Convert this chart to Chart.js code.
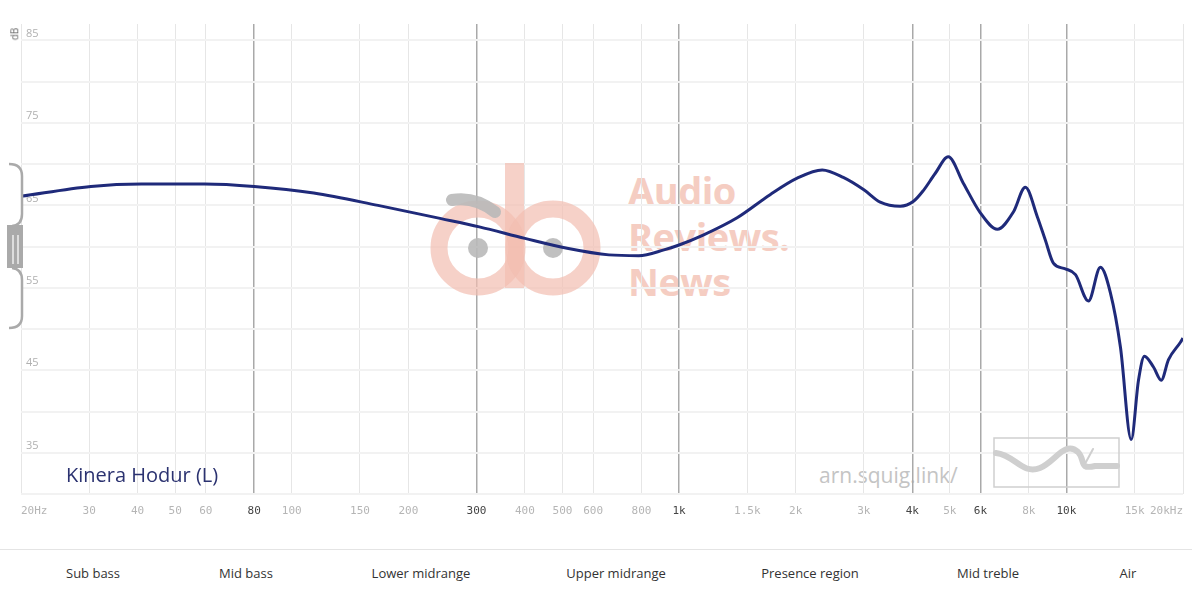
<!DOCTYPE html>
<html>
<head>
<meta charset="utf-8">
<script src="https://cdn.jsdelivr.net/npm/chart.js@4.4.0/dist/chart.umd.min.js"></script>
<style>
  body { margin: 0; width: 1192px; height: 594px; background: #fff; position: relative; overflow: hidden; font-family: 'Open Sans', sans-serif; }
  #fr { position: absolute; left: 0; top: 0; z-index: 2; }
  .wm { position: absolute; z-index: 1; color: #f5cdc2; font-weight: bold; font-size: 38px; line-height: 1; letter-spacing: -0.5px; }
  #label { position: absolute; z-index: 3; left: 66px; top: 461px; font-size: 20px; color: #2b3270; }
  #site { position: absolute; z-index: 1; left: 819px; top: 461px; font-size: 21px; color: #c4c4c4; }
  #db { position: absolute; z-index: 3; left: 8px; top: 27px; font-size: 10px; color: #666; transform: rotate(-90deg); }
  #bands { position: absolute; left: 0; top: 549px; width: 1192px; height: 45px; border-top: 1px solid #e4e4e4; }
  #bands div { position: absolute; top: 14px; transform: translateX(-50%); font-family: 'Liberation Sans Narrow', 'Open Sans', sans-serif; font-size: 13px; color: #333; white-space: nowrap; }
</style>
</head>
<body>
<div class="wm" style="left:628px; top:171px;">Audio</div>
<div class="wm" style="left:628px; top:217px;">Reviews.</div>
<div class="wm" style="left:628px; top:262px;">News</div>
<div id="site">arn.squig.link/</div>
<div id="label">Kinera Hodur (L)</div>
<div id="db">dB</div>
<canvas id="fr" width="1192" height="540"></canvas>
<div id="bands"></div>
<script>
// frequency response
const freqs = [20, 30.3, 40.9, 59.6, 80, 114, 167, 243, 305, 400, 514, 659, 787, 914, 1000,
    1154, 1412, 1718, 2018, 2342, 2654, 3000, 3306, 3724, 4030, 4272, 4588, 4955, 5418, 5995,
    6632, 7296, 7834, 8416, 8822, 9254, 9940, 10554, 11400, 12240, 12990, 13790, 14700, 15350,
    15900, 16780, 17570, 18350, 19700, 20000];
const levels = [66.1, 67.3, 67.6, 67.6, 67.3, 66.5, 65.0, 63.4, 62.4, 61.0, 59.8, 59.0, 58.9, 59.6, 60.2,
    61.4, 63.5, 66.3, 68.3, 69.3, 68.4, 66.9, 65.4, 64.9, 65.5, 66.8, 68.9, 70.9, 67.7, 64.1,
    62.1, 64.2, 67.2, 63.6, 60.8, 58.0, 57.3, 56.6, 53.4, 57.5, 54.4, 47.8, 36.6, 43.8,
    46.7, 45.4, 43.8, 46.3, 48.4, 48.9];

const xTicks = [20, 30, 40, 50, 60, 80, 100, 150, 200, 300, 400, 500, 600, 800, 1000,
    1500, 2000, 3000, 4000, 5000, 6000, 8000, 10000, 15000, 20000];
const xTickLabels = ['20Hz', '30', '40', '50', '60', '80', '100', '150', '200', '300', '400', '500', '600', '800', '1k',
    '1.5k', '2k', '3k', '4k', '5k', '6k', '8k', '10k', '15k', '20kHz'];
const majorTicks = [80, 300, 1000, 4000, 6000, 10000];
const yTicks = [30, 35, 40, 45, 50, 55, 60, 65, 70, 75, 80, 85];

const bandNames = ['Sub bass', 'Mid bass', 'Lower midrange', 'Upper midrange', 'Presence region', 'Mid treble', 'Air'];
const bandCenters = [93, 246, 421, 616, 810, 988, 1128];

const bandsEl = document.getElementById('bands');
bandNames.forEach((name, i) => {
    const d = document.createElement('div');
    d.textContent = name;
    d.style.left = bandCenters[i] + 'px';
    bandsEl.appendChild(d);
});

// watermark logo + squig box, drawn under the curve
const decor = {
    id: 'decor',
    beforeDatasetsDraw(chart) {
        const c = chart.ctx;
        c.save();
        c.strokeStyle = 'rgba(242,190,176,0.7)';
        c.lineWidth = 17;
        c.beginPath(); c.arc(478, 248, 39, 0, Math.PI * 2); c.stroke();
        c.beginPath(); c.arc(553, 248, 39, 0, Math.PI * 2); c.stroke();
        c.fillStyle = 'rgba(242,190,176,0.7)';
        c.fillRect(505, 163, 19, 125);
        c.fillStyle = 'rgba(185,185,185,0.9)';
        c.beginPath(); c.arc(478, 248, 10, 0, Math.PI * 2); c.fill();
        c.beginPath(); c.arc(553, 248, 10, 0, Math.PI * 2); c.fill();
        c.strokeStyle = 'rgba(185,185,185,0.9)';
        c.lineWidth = 12; c.lineCap = 'round';
        c.beginPath(); c.moveTo(452, 200); c.quadraticCurveTo(475, 196, 495, 212); c.stroke();

        c.strokeStyle = '#cfcfcf'; c.lineWidth = 1.5;
        c.strokeRect(994, 438, 125, 49);
        c.lineWidth = 6;
        c.beginPath();
        c.moveTo(996, 453);
        c.bezierCurveTo(1015, 455, 1022, 475, 1040, 468);
        c.bezierCurveTo(1055, 462, 1065, 440, 1078, 452);
        c.bezierCurveTo(1086, 460, 1078, 470, 1095, 466);
        c.lineTo(1117, 466);
        c.stroke();
        c.lineWidth = 2;
        c.beginPath(); c.moveTo(1086, 462); c.lineTo(1093, 449); c.stroke();
        c.restore();
    },
    afterDraw(chart) {
        // scroll handle on the left edge
        const c = chart.ctx;
        c.save();
        c.strokeStyle = '#aaa'; c.lineWidth = 2.5;
        c.beginPath();
        c.moveTo(9, 164); c.quadraticCurveTo(22, 164, 22, 176); c.lineTo(22, 214);
        c.quadraticCurveTo(22, 225, 12, 226);
        c.stroke();
        c.beginPath();
        c.moveTo(12, 268); c.quadraticCurveTo(22, 269, 22, 280); c.lineTo(22, 316);
        c.quadraticCurveTo(22, 328, 9, 328);
        c.stroke();
        c.fillStyle = '#aaa';
        c.fillRect(7, 225, 16, 43);
        c.fillStyle = '#ddd';
        c.fillRect(12, 235, 2, 29);
        c.fillRect(17, 235, 2, 29);
        c.restore();
    }
};

new Chart(document.getElementById('fr'), {
    type: 'line',
    data: {
        datasets: [{
            data: freqs.map((f, i) => ({ x: f, y: levels[i] })),
            borderColor: '#1f2a7a',
            borderWidth: 3,
            pointRadius: 0,
            fill: false,
            cubicInterpolationMode: 'monotone'
        }]
    },
    options: {
        responsive: false,
        animation: false,
        devicePixelRatio: 1,
        layout: { padding: { left: 21, right: 9, top: 24, bottom: 0 } },
        plugins: { legend: { display: false }, tooltip: { enabled: false } },
        scales: {
            x: {
                type: 'logarithmic',
                min: 20,
                max: 20000,
                afterBuildTicks: scale => { scale.ticks = xTicks.map(v => ({ value: v })); },
                afterFit: scale => { scale.height = 46; scale.paddingLeft = 0; scale.paddingRight = 0; },
                border: { display: false },
                grid: {
                    drawTicks: false,
                    color: ctx => majorTicks.includes(ctx.tick && ctx.tick.value) ? '#a9a9a9' : '#e6e6e6',
                    lineWidth: ctx => majorTicks.includes(ctx.tick && ctx.tick.value) ? 1.5 : 1
                },
                ticks: {
                    autoSkip: false,
                    maxRotation: 0,
                    align: 'inner',
                    padding: 11,
                    font: { family: 'DejaVu Sans Mono', size: 11 },
                    color: ctx => majorTicks.includes(ctx.tick.value) ? '#444' : '#b5b5b5',
                    callback: (v, i) => xTickLabels[i]
                }
            },
            y: {
                min: 30,
                max: 87,
                afterBuildTicks: scale => { scale.ticks = yTicks.map(v => ({ value: v })); },
                afterFit: scale => { scale.width = 0; },
                border: { display: false },
                grid: { drawTicks: false, color: '#f2f2f2', lineWidth: 2 },
                ticks: {
                    mirror: true,
                    padding: 5,
                    labelOffset: -7,
                    font: { family: 'Open Sans', size: 11 },
                    color: '#b0b0b0',
                    callback: v => (v % 10 === 5 ? v : '')
                }
            }
        }
    },
    plugins: [decor]
});
</script>
</body>
</html>
